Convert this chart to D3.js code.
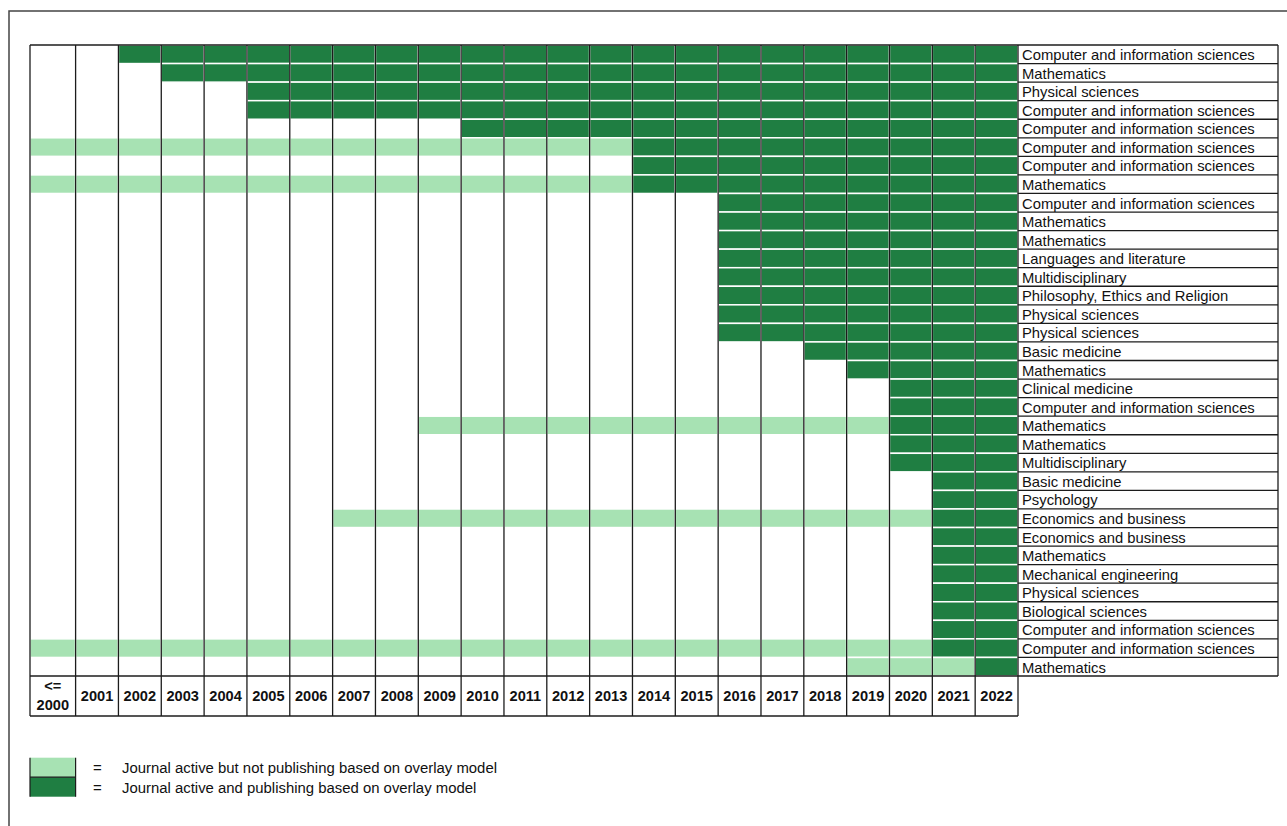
<!DOCTYPE html>
<html>
<head>
  <meta charset="utf-8">
  <title>Overlay journals timeline</title>
  <style>
    body { margin: 0; background: #fff; }
    text { font-family: Arial, "Liberation Sans", Helvetica, sans-serif; fill: #111; }
  </style>
</head>
<body>
  <script src="https://cdn.jsdelivr.net/npm/d3@7/dist/d3.min.js"></script>
  <script>
  'use strict'

  const W = 1287
  const H = 826

  // columns: first one stands for "<= 2000"
  const years = [2000, 2001, 2002, 2003, 2004, 2005, 2006, 2007, 2008, 2009, 2010, 2011,
    2012, 2013, 2014, 2015, 2016, 2017, 2018, 2019, 2020, 2021, 2022]
  const yearLabels = [["<=", "2000"], ["2001"], ["2002"], ["2003"], ["2004"], ["2005"], ["2006"],
    ["2007"], ["2008"], ["2009"], ["2010"], ["2011"], ["2012"], ["2013"], ["2014"], ["2015"],
    ["2016"], ["2017"], ["2018"], ["2019"], ["2020"], ["2021"], ["2022"]]

  const fields = [
    "Computer and information sciences", "Mathematics", "Physical sciences",
    "Computer and information sciences", "Computer and information sciences",
    "Computer and information sciences", "Computer and information sciences", "Mathematics",
    "Computer and information sciences", "Mathematics", "Mathematics", "Languages and literature",
    "Multidisciplinary", "Philosophy, Ethics and Religion", "Physical sciences", "Physical sciences",
    "Basic medicine", "Mathematics", "Clinical medicine", "Computer and information sciences",
    "Mathematics", "Mathematics", "Multidisciplinary", "Basic medicine", "Psychology",
    "Economics and business", "Economics and business", "Mathematics", "Mechanical engineering",
    "Physical sciences", "Biological sciences", "Computer and information sciences",
    "Computer and information sciences", "Mathematics"
  ]

  // first year the journal publishes on the overlay model
  const overlayStart = [2002, 2003, 2005, 2005, 2010, 2014, 2014, 2014,
    2016, 2016, 2016, 2016, 2016, 2016, 2016, 2016,
    2018, 2019, 2020, 2020, 2020, 2020, 2020,
    2021, 2021, 2021, 2021, 2021, 2021, 2021, 2021, 2021, 2021, 2022]

  // first year the journal is active before switching (null = not shown)
  const activeStart = [null, null, null, null, null, 2000, null, 2000,
    null, null, null, null, null, null, null, null,
    null, null, null, null, 2009, null, null,
    null, null, 2007, null, null, null, null, null, null, 2000, 2019]

  const legendItems = ["Journal active but not publishing based on overlay model",
    "Journal active and publishing based on overlay model"]

  const DARK = "#1f7e42"
  const LIGHT = "#a7e2b3"
  const LINE = "#1c1c1c"

  const gridLeft = 30, firstEdge = 75.6, gridRight = 1018, labelRight = 1278
  const gridTop = 45, gridBottom = 676, headerBottom = 716

  const svg = d3.select("body").append("svg")
    .attr("width", W)
    .attr("height", H)

  // column edges (first column is a bit wider)
  const x = d3.scaleLinear()
    .domain([0, 1, years.length])
    .range([gridLeft, firstEdge, gridRight])

  const y = d3.scaleBand()
    .domain(d3.range(fields.length))
    .range([gridTop, gridBottom])

  // outer frame
  svg.append("path")
    .attr("d", `M9,${H} L9,11 L${W},11`)
    .attr("fill", "none")
    .attr("stroke", "#444")
    .attr("stroke-width", 1.5)

  const cells = []
  fields.forEach((f, r) => {
    years.forEach((yr, c) => {
      let fill = null
      if (yr >= overlayStart[r]) fill = DARK
      else if (activeStart[r] != null && yr >= activeStart[r]) fill = LIGHT
      if (fill) cells.push({ r, c, fill })
    })
  })

  svg.append("g").selectAll("rect")
    .data(cells)
    .enter()
    .append("rect")
    .attr("x", d => x(d.c))
    .attr("y", d => y(d.r))
    .attr("width", d => x(d.c + 1) - x(d.c))
    .attr("height", y.bandwidth())
    .attr("fill", d => d.fill)
    .attr("stroke", "#fff")
    .attr("stroke-width", 1.5)

  // vertical grid lines
  svg.append("g").selectAll("line")
    .data(d3.range(years.length + 1))
    .enter()
    .append("line")
    .attr("x1", d => x(d)).attr("x2", d => x(d))
    .attr("y1", gridTop).attr("y2", headerBottom)
    .attr("stroke", LINE)
    .attr("stroke-width", 1.3)

  // label column row lines
  svg.append("g").selectAll("line")
    .data(d3.range(fields.length + 1))
    .enter()
    .append("line")
    .attr("x1", gridRight).attr("x2", labelRight)
    .attr("y1", d => gridTop + d * y.step()).attr("y2", d => gridTop + d * y.step())
    .attr("stroke", LINE)
    .attr("stroke-width", 1.3)

  const hl = [[gridTop, gridLeft, gridRight], [gridBottom, gridLeft, gridRight], [headerBottom, gridLeft, gridRight]]
  svg.append("g").selectAll("line")
    .data(hl)
    .enter()
    .append("line")
    .attr("x1", d => d[1]).attr("x2", d => d[2])
    .attr("y1", d => d[0]).attr("y2", d => d[0])
    .attr("stroke", LINE)
    .attr("stroke-width", 1.3)

  svg.append("line")
    .attr("x1", labelRight).attr("x2", labelRight)
    .attr("y1", gridTop).attr("y2", gridBottom)
    .attr("stroke", LINE)
    .attr("stroke-width", 1.3)

  // row labels
  svg.append("g").selectAll("text")
    .data(fields)
    .enter()
    .append("text")
    .attr("x", gridRight + 4)
    .attr("y", (d, i) => y(i) + y.bandwidth() / 2 + 5.8)
    .attr("font-size", "14.8px")
    .text(d => d)

  // year header
  const hdr = svg.append("g").selectAll("text")
    .data(yearLabels)
    .enter()
    .append("text")
    .attr("text-anchor", "middle")
    .attr("font-size", "14.6px")
    .attr("font-weight", "bold")
    .attr("x", (d, i) => (x(i) + x(i + 1)) / 2)
    .attr("y", d => d.length > 1 ? 691 : 701)
  hdr.selectAll("tspan")
    .data(d => d)
    .enter()
    .append("tspan")
    .attr("x", function () { return d3.select(this.parentNode).attr("x") })
    .attr("dy", (d, i) => i ? 19 : 0)
    .text(d => d)

  // legend
  const lg = svg.append("g")
  const ly = d3.scaleBand().domain([0, 1]).range([757.7, 796.7])
  lg.selectAll("rect")
    .data([LIGHT, DARK])
    .enter()
    .append("rect")
    .attr("x", gridLeft)
    .attr("y", (d, i) => ly(i))
    .attr("width", firstEdge - gridLeft)
    .attr("height", ly.bandwidth())
    .attr("fill", d => d)
  lg.append("path")
    .attr("d", `M${gridLeft},757.7 V796.7 M${firstEdge},757.7 V796.7 M${gridLeft},${ly(1)} H${firstEdge}`)
    .attr("stroke", LINE)
    .attr("stroke-width", 1.2)
    .attr("fill", "none")
  lg.selectAll("text.eq")
    .data(legendItems)
    .enter()
    .append("text")
    .attr("class", "eq")
    .attr("x", 93)
    .attr("y", (d, i) => ly(i) + ly.bandwidth() / 2 + 6)
    .attr("font-size", "15px")
    .text("=")
  lg.selectAll("text.lab")
    .data(legendItems)
    .enter()
    .append("text")
    .attr("class", "lab")
    .attr("x", 122)
    .attr("y", (d, i) => ly(i) + ly.bandwidth() / 2 + 6)
    .attr("font-size", "14.9px")
    .text(d => d)
  </script>
</body>
</html>
